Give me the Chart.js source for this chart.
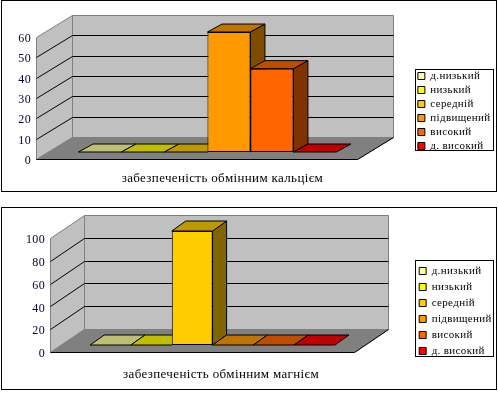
<!DOCTYPE html>
<html>
<head>
<meta charset="utf-8">
<style>
html, body { margin: 0; padding: 0; background: #fff; }
.box { position: absolute; left: 1px; width: 494px; border: 1px solid #000; box-sizing: content-box; }
canvas { position: absolute; left: 0; display: block; }
</style>
<script src="https://cdn.jsdelivr.net/npm/chart.js@4"></script>
</head>
<body>
<div class="box" style="top:0;height:190px"></div>
<div class="box" style="top:207px;height:181px"></div>
<canvas id="calcium" width="498" height="192" style="top:0"></canvas>
<canvas id="magnesium" width="498" height="194" style="top:200px"></canvas>
<script>
const seriesNames = ['д.низький', 'низький', 'середній', 'підвищений', 'високий', 'д. високий'];
const seriesColors = ['#FFFF99', '#FFFF00', '#FFCC00', '#FF9900', '#FF6600', '#FF0000'];

const calciumLabel = 'забезпеченість обмінним кальцієм';
const calciumValues = [0, 0, 0, 59, 41, 0];
const calciumTicks = [0, 10, 20, 30, 40, 50, 60];

const magnesiumLabel = 'забезпеченість обмінним магнієм';
const magnesiumValues = [0, 0, 100, 0, 0, 0];
const magnesiumTicks = [0, 20, 40, 60, 80, 100];

const fontFamily = '"Liberation Serif", "Times New Roman", serif';

// darkens a hex colour for the top and side faces
function shade(hex, k) {
    const n = parseInt(hex.slice(1), 16);
    return 'rgb(' + Math.round((n >> 16) * k) + ',' + Math.round(((n >> 8) & 255) * k) + ',' + Math.round((n & 255) * k) + ')';
}

function poly(ctx, pts, fill, stroke) {
    ctx.beginPath();
    pts.forEach((p, i) => i ? ctx.lineTo(p[0], p[1]) : ctx.moveTo(p[0], p[1]));
    ctx.closePath();
    ctx.fillStyle = fill;
    ctx.fill();
    if (stroke) {
        ctx.strokeStyle = stroke;
        ctx.lineWidth = 1;
        ctx.stroke();
    }
}

// fake 3d: walls, floor and grid come from the scales, bars are redrawn left to right
const box3d = {
    id: 'box3d',
    beforeInit(chart) {
        chart.ctx.letterSpacing = chart.options.plugins.box3d.spacing;
    },
    beforeDraw(chart) {
        chart.ctx.letterSpacing = chart.options.plugins.box3d.spacing;
    },
    beforeDatasetsDraw(chart) {
        const o = chart.options.plugins.box3d;
        const ctx = chart.ctx;
        const a = chart.chartArea;
        const y = chart.scales.y;
        const dx = o.wall[0], dy = o.wall[1];
        const l = Math.round(a.left) + .5, r = Math.round(a.right) + .5;
        const t = Math.round(a.top) + .5, b = Math.round(a.bottom) + .5;

        ctx.save();
        poly(ctx, [[l + dx, t + dy], [r + dx, t + dy], [r + dx, b + dy], [l + dx, b + dy]], '#C0C0C0', '#808080');
        poly(ctx, [[l, t], [l + dx, t + dy], [l + dx, b + dy], [l, b]], '#C0C0C0', '#808080');
        poly(ctx, [[l, b], [l + dx, b + dy], [r + dx, b + dy], [r, b]], '#808080', '#808080');

        ctx.strokeStyle = '#000';
        ctx.lineWidth = 1;
        y.ticks.forEach((tick) => {
            if (tick.value === y.min || tick.value === y.max) return;
            const py = Math.round(y.getPixelForValue(tick.value)) + .5;
            ctx.beginPath();
            ctx.moveTo(l, py);
            ctx.lineTo(l + dx, py + dy);
            ctx.lineTo(r + dx, py + dy);
            ctx.stroke();
        });
        ctx.beginPath();
        ctx.moveTo(l, b);
        ctx.lineTo(r, b);
        ctx.lineTo(r + dx, b + dy);
        ctx.stroke();

        ctx.translate(o.shift[0], o.shift[1]);
        chart.data.datasets.forEach((ds, i) => {
            const bar = chart.getDatasetMeta(i).data[0];
            const x0 = bar.x - bar.width / 2, x1 = bar.x + bar.width / 2;
            const ex = o.bar[0], ey = o.bar[1];
            if (ds.data[0] > 0) {
                poly(ctx, [[x1, bar.y], [x1 + ex, bar.y + ey], [x1 + ex, bar.base + ey], [x1, bar.base]], shade(ds.backgroundColor, .5), '#000');
            }
            poly(ctx, [[x0, bar.y], [x0 + ex, bar.y + ey], [x1 + ex, bar.y + ey], [x1, bar.y]], shade(ds.backgroundColor, .75), '#000');
            bar.draw(ctx);
        });
        ctx.restore();
        return false;
    },
    afterDraw(chart) {
        const f = chart.options.plugins.box3d.frame;
        const ctx = chart.ctx;
        ctx.save();
        ctx.strokeStyle = '#000';
        ctx.lineWidth = 1;
        ctx.strokeRect(f[0] + .5, f[1] + .5, f[2], f[3]);
        ctx.restore();
    }
};

function drawChart(id, label, values, ticks, geo) {
    return new Chart(document.getElementById(id), {
        type: 'bar',
        plugins: [box3d],
        data: {
            labels: [label],
            datasets: seriesNames.map((name, i) => ({
                label: name,
                data: [values[i]],
                yAxisID: 'y',
                backgroundColor: seriesColors[i],
                borderColor: '#000',
                borderWidth: 1,
                borderSkipped: false,
                inflateAmount: 0,
                categoryPercentage: geo.barShare,
                barPercentage: 1
            }))
        },
        options: {
            responsive: false,
            animation: false,
            layout: { padding: geo.padding },
            plugins: {
                tooltip: { enabled: false },
                legend: {
                    position: 'right',
                    onClick: null,
                    labels: {
                        color: '#000',
                        boxWidth: 7,
                        boxHeight: 7,
                        padding: geo.legendGap,
                        font: { family: fontFamily, size: 11 }
                    }
                },
                box3d: geo
            },
            scales: {
                x: {
                    grid: { display: false, drawTicks: false },
                    border: { display: false },
                    ticks: {
                        color: '#000',
                        padding: geo.labelGap,
                        labelOffset: geo.labelShift,
                        maxRotation: 0,
                        font: { family: fontFamily, size: 13 }
                    },
                    afterFit(s) { s.height = geo.axisHeight; }
                },
                y: {
                    min: 0,
                    max: ticks[ticks.length - 1],
                    afterBuildTicks(s) { s.ticks = ticks.map((v) => ({ value: v })); },
                    grid: { display: false, drawTicks: false },
                    border: { display: false },
                    ticks: {
                        color: '#000033',
                        padding: 5,
                        labelOffset: 2,
                        font: { family: fontFamily, size: 12 }
                    },
                    afterFit(s) { s.width = geo.axisWidth; }
                },
                // empty axis, keeps room for the wall between plot and legend
                gap: {
                    position: 'right',
                    grid: { display: false, drawTicks: false },
                    border: { display: false },
                    ticks: { display: false },
                    afterFit(s) { s.width = geo.gapWidth; }
                }
            }
        }
    });
}

drawChart('calcium', calciumLabel, calciumValues, calciumTicks, {
    wall: [36, -22], shift: [11, -7], bar: [14.5, -8], frame: [415, 69, 78, 81],
    barShare: .804, padding: { top: 37, bottom: 7, left: 0, right: 1 },
    axisWidth: 36, axisHeight: 26, gapWidth: 58, labelGap: 12, labelShift: 26,
    legendGap: 3, spacing: '0.35px'
});

drawChart('magnesium', magnesiumLabel, magnesiumValues, magnesiumTicks, {
    wall: [34, -23], shift: [10.5, -7], bar: [14, -10], frame: [415, 60, 78, 96],
    barShare: .805, padding: { top: 38, bottom: 10, left: 0, right: 1 },
    axisWidth: 50, axisHeight: 32, gapWidth: 60, labelGap: 15, labelShift: 19,
    legendGap: 5, spacing: '0.35px'
});
</script>
</body>
</html>
